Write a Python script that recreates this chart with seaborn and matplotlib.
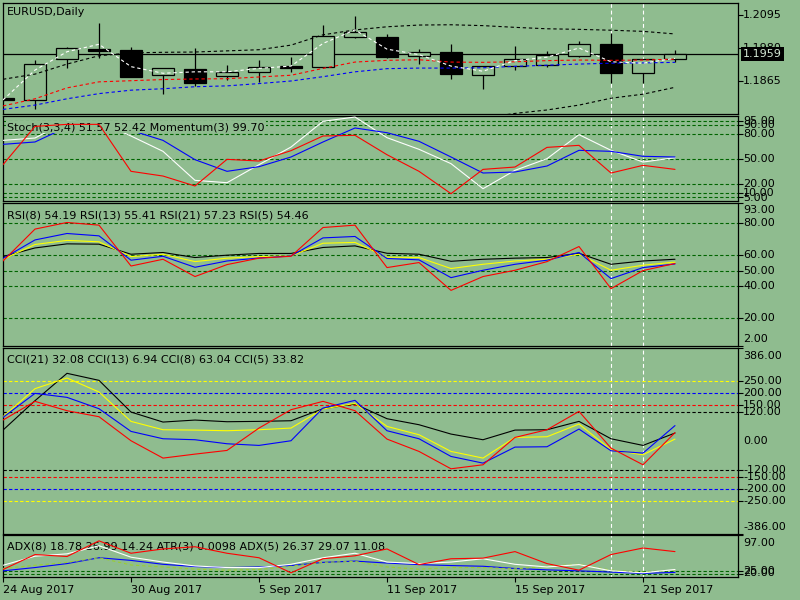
import numpy as np
import pandas as pd
import seaborn as sns
import matplotlib.pyplot as plt
import matplotlib.transforms as mtransforms

BG = '#8FBC8F'
LVL = '#006400'

# ---------------- data ----------------
bars = np.arange(22)
tick_bars = [0, 4, 8, 12, 16, 20]
tick_dates = ['24 Aug 2017', '30 Aug 2017', '5 Sep 2017', '11 Sep 2017', '15 Sep 2017', '21 Sep 2017']

opens = [1.1806, 1.1799, 1.1943, 1.1977, 1.1973, 1.1885, 1.1906, 1.1881, 1.1895, 1.1917, 1.1913,
         1.2019, 1.2017, 1.1952, 1.1965, 1.1885, 1.1916, 1.1920, 1.1952, 1.1994, 1.1892, 1.1941]
highs = [1.1810, 1.1938, 1.1985, 1.2066, 1.1982, 1.1910, 1.1979, 1.1921, 1.1938, 1.1948, 1.2060,
         1.2092, 1.2029, 1.1975, 1.1994, 1.1918, 1.1987, 1.1970, 1.2004, 1.2031, 1.1942, 1.1973]
lows = [1.1795, 1.1767, 1.1911, 1.1944, 1.1878, 1.1819, 1.1848, 1.1868, 1.1863, 1.1897, 1.1912,
        1.2014, 1.1944, 1.1924, 1.1871, 1.1836, 1.1903, 1.1915, 1.1950, 1.1859, 1.1859, 1.1931]
closes = [1.1799, 1.1924, 1.1979, 1.1970, 1.1880, 1.1909, 1.1857, 1.1895, 1.1913, 1.1911, 1.2022,
          1.2035, 1.1950, 1.1965, 1.1888, 1.1917, 1.1941, 1.1956, 1.1994, 1.1892, 1.1941, 1.1959]

ma_white = [1.1799, 1.1903, 1.1967, 1.1993, 1.1915, 1.1892, 1.1897, 1.1897, 1.1909, 1.1917, 1.1996,
            1.2043, 1.1976, 1.1957, 1.1917, 1.1899, 1.1936, 1.1948, 1.1980, 1.1932, 1.1927, 1.1944]
ma_red = [1.1778, 1.1803, 1.1841, 1.1862, 1.1866, 1.1870, 1.1872, 1.1873, 1.1879, 1.1885, 1.1909,
          1.1931, 1.1937, 1.1939, 1.1931, 1.1930, 1.1932, 1.1936, 1.1938, 1.1937, 1.1938, 1.1941]
ma_blue = [1.1766, 1.1781, 1.1803, 1.1821, 1.1833, 1.1838, 1.1845, 1.1848, 1.1856, 1.1865, 1.1880,
           1.1897, 1.1908, 1.1910, 1.1910, 1.1911, 1.1916, 1.1920, 1.1924, 1.1927, 1.1928, 1.1930]
band_up = [1.1871, 1.1889, 1.1924, 1.1953, 1.1963, 1.1965, 1.1966, 1.1970, 1.1974, 1.1990, 1.2026,
           1.2043, 1.2054, 1.2060, 1.2061, 1.2058, 1.2052, 1.2047, 1.2045, 1.2042, 1.2038, 1.2029]
band_dn = [np.nan] * 15 + [1.1736, 1.1752, 1.1764, 1.1781, 1.1805, 1.1819, 1.1843]
last_price = 1.1959

stoch_main = [72.1, 74.9, 94.7, 93.9, 77.3, 59.1, 24.7, 21.9, 43.3, 64.2, 94.7, 99.8, 75.3, 61.5,
              44.5, 14.8, 36.6, 50.4, 78.9, 60.3, 46.4, 51.6]
stoch_sig = [67.4, 70.2, 87.9, 89.9, 84.0, 72.1, 49.2, 35.4, 40.9, 52.4, 70.2, 86.8, 81.2, 71.0,
             52.4, 33.4, 34.6, 41.7, 60.3, 59.1, 53.2, 52.4]
momentum = [43.3, 88.7, 91.1, 91.1, 35.4, 29.8, 18.0, 49.6, 47.6, 59.9, 77.3, 78.1, 55.1, 35.4,
            8.9, 37.7, 40.5, 63.8, 66.2, 33.4, 42.5, 37.7]

rsi5 = [56.1, 76.4, 80.6, 78.9, 52.9, 57.2, 46.2, 53.8, 57.9, 59.1, 77.4, 78.9, 51.9, 55.1, 37.4,
        46.2, 50.2, 55.7, 65.3, 38.5, 50.0, 54.5]
rsi8 = [57.7, 69.5, 73.6, 72.1, 56.6, 59.1, 52.1, 56.1, 58.0, 59.3, 70.8, 71.7, 57.7, 56.8, 45.5,
        50.2, 54.0, 56.6, 61.5, 44.9, 51.9, 54.2]
rsi13 = [57.2, 66.6, 69.2, 68.3, 58.9, 60.4, 55.7, 57.9, 58.9, 59.3, 67.4, 67.9, 58.5, 58.3, 51.3,
         54.0, 56.1, 57.2, 60.4, 50.2, 53.4, 55.4]
rsi21 = [58.9, 64.4, 67.0, 66.8, 60.4, 61.5, 58.3, 59.8, 60.9, 60.9, 64.7, 65.7, 61.0, 60.4, 55.9,
         57.2, 57.9, 58.3, 61.0, 54.0, 56.1, 57.2]

cci21 = [44.4, 166.7, 280.6, 251.4, 119.4, 77.8, 86.1, 79.2, 80.6, 83.3, 133.3, 152.8, 91.7, 66.7,
         27.8, 4.2, 44.4, 45.8, 80.6, 8.3, -19.4, 32.1]
cci13 = [100.0, 216.7, 261.1, 202.8, 80.6, 45.8, 44.4, 41.7, 45.8, 52.8, 131.9, 155.6, 59.7, 25.0,
         -44.4, -72.2, 13.9, 16.7, 69.4, -37.5, -58.3, 6.9]
cci8 = [97.2, 197.2, 180.6, 133.3, 38.9, 8.3, 4.2, -12.5, -19.4, 0.0, 136.1, 168.1, 41.7, 8.3,
        -65.3, -93.1, -26.4, -25.0, 48.6, -41.7, -51.4, 63.0]
cci5 = [86.1, 163.9, 125.0, 100.0, 0.0, -72.2, -55.6, -40.3, 52.8, 129.2, 163.9, 125.0, 6.9, -44.4,
        -116.7, -100.0, 13.9, 45.8, 122.2, -30.6, -100.0, 33.8]

adx_red = [28.0, 57.9, 54.0, 85.3, 60.5, 69.1, 73.5, 60.5, 51.5, 21.4, 49.5, 55.4, 69.1, 37.8,
           49.5, 50.7, 63.8, 39.8, 26.7, 57.9, 71.0, 63.8]
adx_white = [36.4, 54.6, 59.3, 75.5, 52.6, 42.9, 35.1, 31.9, 31.9, 38.4, 51.5, 60.5, 42.9, 39.8,
             42.9, 49.5, 38.4, 33.1, 37.8, 25.3, 21.4, 28.0]
adx_blue = [25.3, 31.9, 39.8, 51.5, 46.2, 38.4, 33.9, 31.9, 33.1, 35.9, 42.3, 44.8, 40.9, 37.8,
            35.9, 34.5, 30.0, 27.3, 25.3, 22.8, 20.2, 22.2]
adx_green = [30.0, 36.4, 42.3, 51.5, 37.0, 33.1, 28.6, 26.7, 28.0, 34.5, 42.3, 44.2, 33.1, 28.6,
             31.9, 31.9, 29.2, 34.5, 38.4, 26.7, 22.8, 26.7]

marked_bars = [19, 20]

# ---------------- style ----------------
sns.set_style("ticks", {'axes.facecolor': BG, 'figure.facecolor': BG, 'axes.edgecolor': 'black'})
plt.rcParams['font.family'] = ['DejaVu Sans']
plt.rcParams['font.size'] = 8
plt.rcParams['text.color'] = 'black'
plt.rcParams['xtick.color'] = 'black'
plt.rcParams['ytick.color'] = 'black'
plt.rcParams['xtick.labelcolor'] = 'black'

fig = plt.figure(figsize=(8, 6), dpi=100, facecolor=BG)
LEFT_PX, RIGHT_PX = 3, 738


def panel(top, bottom, ylim):
    ax = fig.add_axes([LEFT_PX / 800, 1 - bottom / 600, (RIGHT_PX - LEFT_PX) / 800, (bottom - top) / 600])
    ax.set_facecolor(BG)
    ax.set_xlim(0, (RIGHT_PX - LEFT_PX) / 32)
    ax.set_ylim(*ylim)
    for s in ax.spines.values():
        s.set_linewidth(0.9)
        s.set_color('black')
    ax.set_xticks([])
    for b in marked_bars:
        ax.axvline(b, color='white', lw=0.8, ls=(0, (3.5, 2.5)), zorder=1)
    return ax


def line(ax, y, color, lw=0.8, dash=None, z=3):
    sns.lineplot(x=bars, y=y, ax=ax, color=color, linewidth=lw, zorder=z, legend=False)
    ln = ax.lines[-1]
    if dash:
        ln.set_dashes(dash)
    ax.set_xlabel('')
    ax.set_ylabel('')


def levels(ax, vals, colors, z=2):
    for v, c in zip(vals, colors):
        ax.axhline(v, color=c, lw=0.8, ls=(0, (3, 2)), zorder=z)


def right_axis(ax, ticks, labels, label_vals, notick=()):
    ax.set_yticks([t for t in ticks if t not in notick])
    ax.tick_params(axis='y', left=False, right=True, labelleft=False, labelright=False,
                   length=3.5, width=0.8, direction='out', color='black')
    trans = mtransforms.blended_transform_factory(ax.transAxes, ax.transData)
    for v, s in zip(label_vals, labels):
        ax.text(1 + 5 / 735, v, s, transform=trans, va='center', ha='left', fontsize=8,
                color='black', clip_on=False, zorder=6)


def title(ax, s, ypos, z=5, box=False):
    kw = {}
    if box:
        kw['bbox'] = dict(facecolor=BG, edgecolor='none', pad=1.0)
    ax.text(4 / 735, ypos, s, transform=ax.transAxes, va='center', ha='left', fontsize=8,
            color='black', zorder=z, **kw)


# ---------------- main price panel ----------------
ax0 = panel(2.5, 113.5, (1.17517, 1.21386))
ax0.axhline(last_price, color='black', lw=0.9, zorder=1.5)
for i in bars:
    o, h, l, c = opens[i], highs[i], lows[i], closes[i]
    ax0.vlines(i, l, h, color='black', lw=0.9, zorder=2)
    face = BG if c >= o else 'black'
    ax0.bar(i, max(abs(c - o), 0.00005), bottom=min(o, c), width=0.69, color=face,
            edgecolor='black', linewidth=0.9, zorder=2.2)
line(ax0, band_up, 'black', dash=(3, 2.5))
line(ax0, band_dn, 'black', dash=(3, 2.5))
line(ax0, ma_blue, 'blue', dash=(3, 2.5))
line(ax0, ma_red, 'red', dash=(3, 2.5))
line(ax0, ma_white, 'white', dash=(3, 2.5))
ax0.set_xticks([])
right_axis(ax0, [1.2095, 1.1980, 1.1865], ['1.2095', '1.1980', '1.1865'], [1.2095, 1.1980, 1.1865])
trans0 = mtransforms.blended_transform_factory(ax0.transAxes, ax0.transData)
ax0.text(1 + 5 / 735, last_price, '1.1959', transform=trans0, va='center', ha='left', fontsize=8,
         color='#d4e8d4', clip_on=False, zorder=7,
         bbox=dict(facecolor='black', edgecolor='none', pad=1.6))
title(ax0, 'EURUSD,Daily', 1 - 9.5 / 111)

# ---------------- stochastic / momentum ----------------
ax1 = panel(115.5, 200.5, (0.8, 101.6))
levels(ax1, [95, 90, 80, 50, 20, 10, 5], [LVL] * 7)
line(ax1, stoch_main, 'white', z=3)
line(ax1, stoch_sig, 'blue', z=3)
title(ax1, 'Stoch(3,3,4) 51.57 52.42 Momentum(3) 99.70', 1 - 11.5 / 85, z=4, box=True)
line(ax1, momentum, 'red', z=5)
right_axis(ax1, [95, 90, 80, 50, 20, 10, 5],
           ['95.00', '90.00', '80.00', '50.00', '20.00', '10.00', '5.00'],
           [95, 90, 80, 50, 20, 10, 4])

# ---------------- RSI ----------------
ax2 = panel(203, 346, (2, 93))
levels(ax2, [80, 60, 50, 40, 20], [LVL] * 5)
line(ax2, rsi21, 'black')
line(ax2, rsi13, 'yellow')
line(ax2, rsi8, 'blue')
line(ax2, rsi5, 'red')
title(ax2, 'RSI(8) 54.19 RSI(13) 55.41 RSI(21) 57.23 RSI(5) 54.46', 1 - 12 / 143)
right_axis(ax2, [93, 80, 60, 50, 40, 20, 2],
           ['93.00', '80.00', '60.00', '50.00', '40.00', '20.00', '2.00'],
           [88.8, 80, 60, 50, 40, 20, 6.3])

# ---------------- CCI ----------------
ax3 = panel(348, 533.5, (-386, 386))
levels(ax3, [250, 200, 150, 120, -120, -150, -200, -250],
       ['yellow', 'blue', 'red', 'black', 'black', 'red', 'blue', 'yellow'])
line(ax3, cci21, 'black')
line(ax3, cci13, 'yellow')
line(ax3, cci8, 'blue')
line(ax3, cci5, 'red')
title(ax3, 'CCI(21) 32.08 CCI(13) 6.94 CCI(8) 63.04 CCI(5) 33.82', 1 - 12 / 185.5)
cci_ticks = [386, 250, 200, 150, 120, 0, -120, -150, -200, -250, -386]
right_axis(ax3, cci_ticks, ['%.2f' % t for t in cci_ticks],
           [354, 250, 200, 150, 120, 0, -120, -150, -200, -250, -357], notick=(0,))

# ---------------- ADX / ATR ----------------
ax4 = panel(535, 577, (13, 97))
levels(ax4, [25, 20], [LVL, LVL])
title(ax4, 'ADX(8) 18.78 26.99 14.24 ATR(3) 0.0098 ADX(5) 26.37 29.07 11.08', 1 - 11.5 / 42, z=2)
line(ax4, adx_blue, 'blue')
line(ax4, adx_green, '#9ACD32', dash=(3, 2.5))
line(ax4, adx_white, 'white')
line(ax4, adx_red, 'red')
right_axis(ax4, [97, 25, 20], ['97.00', '25.00', '20.00'], [80.8, 25, 20])
ax4.set_xticks(tick_bars)
ax4.set_xticklabels(tick_dates, ha='left', fontsize=8, color='black')
ax4.tick_params(axis='x', bottom=True, length=3.5, width=0.8, pad=2, direction='out', color='black')

fig.savefig('out.png', dpi=100, facecolor=BG)
